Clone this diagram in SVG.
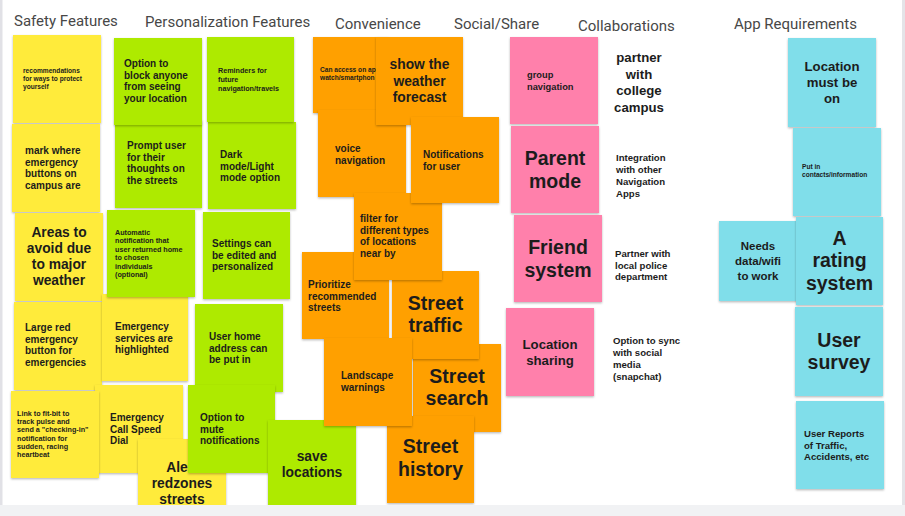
<svg xmlns="http://www.w3.org/2000/svg" width="905" height="516" viewBox="0 0 905 516">
<defs>
<filter id="sh" x="-10%" y="-10%" width="120%" height="125%">
<feDropShadow dx="0" dy="1.2" stdDeviation="0.9" flood-color="#000" flood-opacity="0.28"/>
</filter>
</defs>
<style>
.s{filter:url(#sh)}
.y{fill:#FFEB3B}
.g{fill:#AEEA00}
.o{fill:#FFA000}
.p{fill:#FF80AB}
.c{fill:#80DEEA}
text{font-family:"Liberation Sans",Arial,sans-serif;fill:#1c1c1c;font-weight:700}
.h{font-family:Roboto,"Liberation Sans",sans-serif;font-weight:400;font-size:15px;fill:#474747}
.xs{font-size:6.6px}
.sm{font-size:7.2px}
.md{font-size:10px}
.lg{font-size:13.8px;text-anchor:middle}
.xl{font-size:19.5px;text-anchor:middle}
.mc{font-size:11.5px;text-anchor:middle}
.cb{font-size:9.6px}
</style>
<rect x="0" y="0" width="905" height="516" fill="#ffffff"/>
<rect x="0" y="0" width="2.5" height="505" fill="#e1e1e6"/>
<rect x="902" y="0" width="3" height="505" fill="#e4e4e8"/>

<g id="headers">
<text class="h" x="14" y="26">Safety Features</text>
<text class="h" x="145" y="27">Personalization Features</text>
<text class="h" x="335" y="29">Convenience</text>
<text class="h" x="454" y="29">Social/Share</text>
<text class="h" x="578" y="31">Collaborations</text>
<text class="h" x="734" y="29">App Requirements</text>
</g>

<g id="connectors"></g>

<!-- Safety (yellow) -->
<g id="y-recommendations"><rect class="s y" x="13" y="35" width="88" height="88"/>
<text class="xs" x="23"><tspan x="23" y="73">recommendations</tspan><tspan x="23" y="81">for ways to protect</tspan><tspan x="23" y="89">yourself</tspan></text></g>
<g id="y-mark-where"><rect class="s y" x="12" y="124" width="88" height="88"/>
<text class="md" x="25"><tspan x="25" y="154">mark where</tspan><tspan x="25" y="165.5">emergency</tspan><tspan x="25" y="177">buttons on</tspan><tspan x="25" y="188.5">campus are</tspan></text></g>
<g id="y-areas"><rect class="s y" x="15" y="213" width="88" height="88"/>
<text class="lg" x="59"><tspan x="59" y="237">Areas to</tspan><tspan x="59" y="253">avoid due</tspan><tspan x="59" y="269">to major</tspan><tspan x="59" y="285">weather</tspan></text></g>
<g id="y-large-red"><rect class="s y" x="14" y="302" width="88" height="88"/>
<text class="md" x="25"><tspan x="25" y="331">Large red</tspan><tspan x="25" y="342.5">emergency</tspan><tspan x="25" y="354">button for</tspan><tspan x="25" y="365.5">emergencies</tspan></text></g>
<g id="y-emergency-services"><rect class="s y" x="102" y="294" width="86" height="87"/>
<text class="md" x="115"><tspan x="115" y="330">Emergency</tspan><tspan x="115" y="341.5">services are</tspan><tspan x="115" y="353">highlighted</tspan></text></g>
<g id="y-speed-dial"><rect class="s y" x="95" y="385" width="88" height="88"/>
<text class="md" x="110"><tspan x="110" y="421">Emergency</tspan><tspan x="110" y="432.5">Call Speed</tspan><tspan x="110" y="444">Dial</tspan></text></g>
<g id="y-fitbit"><rect class="s y" x="11" y="391" width="88" height="87"/>
<text class="sm" x="17"><tspan x="17" y="416">Link to fit-bit to</tspan><tspan x="17" y="424.2">track pulse and</tspan><tspan x="17" y="432.4">send a "checking-in"</tspan><tspan x="17" y="440.6">notification for</tspan><tspan x="17" y="448.8">sudden, racing</tspan><tspan x="17" y="457">heartbeat</tspan></text></g>
<g id="y-redzones"><rect class="s y" x="138" y="439" width="88" height="72"/>
<text class="lg"><tspan x="177" y="472">Ale</tspan><tspan x="182" y="488">redzones</tspan><tspan x="182" y="504">streets</tspan></text></g>

<!-- Personalization (green) -->
<g id="g-prompt"><rect class="s g" x="115" y="120" width="87" height="88"/>
<text class="md" x="127"><tspan x="127" y="149">Prompt user</tspan><tspan x="127" y="160.5">for their</tspan><tspan x="127" y="172">thoughts on</tspan><tspan x="127" y="183.5">the streets</tspan></text></g>
<g id="g-block"><rect class="s g" x="114" y="38" width="88" height="87"/>
<text class="md" x="124"><tspan x="124" y="67">Option to</tspan><tspan x="124" y="78.5">block anyone</tspan><tspan x="124" y="90">from seeing</tspan><tspan x="124" y="101.5">your location</tspan></text></g>
<g id="g-dark-mode"><rect class="s g" x="208" y="122" width="88" height="87"/>
<text class="md" x="220"><tspan x="220" y="158">Dark</tspan><tspan x="220" y="169.5">mode/Light</tspan><tspan x="220" y="181">mode option</tspan></text></g>
<g id="g-reminders"><rect class="s g" x="207" y="37" width="87" height="85"/>
<text class="sm" x="218"><tspan x="218" y="73">Reminders for</tspan><tspan x="218" y="82">future</tspan><tspan x="218" y="91">navigation/travels</tspan></text></g>
<g id="g-automatic"><rect class="s g" x="107" y="210" width="88" height="87"/>
<text class="sm" x="115"><tspan x="115" y="235">Automatic</tspan><tspan x="115" y="243.4">notification that</tspan><tspan x="115" y="251.8">user returned home</tspan><tspan x="115" y="260.2">to chosen</tspan><tspan x="115" y="268.6">individuals</tspan><tspan x="115" y="277">(optional)</tspan></text></g>
<g id="g-settings"><rect class="s g" x="203" y="212" width="87" height="87"/>
<text class="md" x="212"><tspan x="212" y="247">Settings can</tspan><tspan x="212" y="258.5">be edited and</tspan><tspan x="212" y="270">personalized</tspan></text></g>
<g id="g-home-address"><rect class="s g" x="195" y="304" width="88" height="88"/>
<text class="md" x="209"><tspan x="209" y="340">User home</tspan><tspan x="209" y="351.5">address can</tspan><tspan x="209" y="363">be put in</tspan></text></g>
<g id="g-mute"><rect class="s g" x="188" y="385" width="87" height="88"/>
<text class="md" x="200"><tspan x="200" y="421">Option to</tspan><tspan x="200" y="432.5">mute</tspan><tspan x="200" y="444">notifications</tspan></text></g>
<g id="g-save"><rect class="s g" x="268" y="420" width="88" height="92"/>
<text class="lg" x="312"><tspan x="312" y="461">save</tspan><tspan x="312" y="477">locations</tspan></text></g>

<!-- Convenience (orange) -->
<g id="o-watch"><rect class="s o" x="313" y="37" width="76" height="76"/>
<text class="xs" x="320"><tspan x="320" y="72">Can access on app</tspan><tspan x="320" y="80">watch/smartphon</tspan></text></g>
<g id="o-voice"><rect class="s o" x="318" y="110" width="88" height="87"/>
<text class="md" x="335"><tspan x="335" y="152">voice</tspan><tspan x="335" y="163.5">navigation</tspan></text></g>
<g id="o-weather"><rect class="s o" x="376" y="37" width="87" height="88"/>
<text class="lg" x="419.5"><tspan x="419.5" y="69">show the</tspan><tspan x="419.5" y="86">weather</tspan><tspan x="419.5" y="102">forecast</tspan></text></g>
<g id="o-prioritize"><rect class="s o" x="302" y="252" width="87" height="87"/>
<text class="md" x="308"><tspan x="308" y="288">Prioritize</tspan><tspan x="308" y="299.5">recommended</tspan><tspan x="308" y="311">streets</tspan></text></g>
<g id="o-search"><rect class="s o" x="413" y="344" width="88" height="88"/>
<text class="xl" x="457"><tspan x="457" y="383">Street</tspan><tspan x="457" y="405">search</tspan></text></g>
<g id="o-history"><rect class="s o" x="387" y="416" width="87" height="87"/>
<text class="xl" x="430.5"><tspan x="430.5" y="453">Street</tspan><tspan x="430.5" y="476">history</tspan></text></g>
<g id="o-traffic"><rect class="s o" x="392" y="271" width="87" height="88"/>
<text class="xl" x="435.5"><tspan x="435.5" y="310">Street</tspan><tspan x="435.5" y="332">traffic</tspan></text></g>
<g id="o-filter"><rect class="s o" x="354" y="193" width="88" height="87"/>
<text class="md" x="360"><tspan x="360" y="222">filter for</tspan><tspan x="360" y="233.5">different types</tspan><tspan x="360" y="245">of locations</tspan><tspan x="360" y="256.5">near by</tspan></text></g>
<g id="o-notifications"><rect class="s o" x="411" y="117" width="88" height="86"/>
<text class="md" x="423"><tspan x="423" y="158">Notifications</tspan><tspan x="423" y="169.5">for user</tspan></text></g>
<g id="o-landscape"><rect class="s o" x="324" y="338" width="88" height="88"/>
<text class="md" x="341"><tspan x="341" y="379">Landscape</tspan><tspan x="341" y="390.5">warnings</tspan></text></g>

<!-- Social/Share (pink) -->
<g id="p-group"><rect class="s p" x="510" y="37" width="88" height="87"/>
<text class="cb" x="527" style="font-size:9.3px"><tspan x="527" y="78">group</tspan><tspan x="527" y="90">navigation</tspan></text></g>
<g id="p-parent"><rect class="s p" x="511" y="126" width="88" height="87"/>
<text class="xl" x="555"><tspan x="555" y="165">Parent</tspan><tspan x="555" y="188">mode</tspan></text></g>
<g id="p-friend"><rect class="s p" x="514" y="215" width="88" height="87"/>
<text class="xl" x="558"><tspan x="558" y="254">Friend</tspan><tspan x="558" y="277">system</tspan></text></g>
<g id="p-location"><rect class="s p" x="506" y="308" width="88" height="88"/>
<text class="lg" x="550" style="font-size:13.2px"><tspan x="550" y="349">Location</tspan><tspan x="550" y="365">sharing</tspan></text></g>

<!-- Collaborations (plain text) -->
<g id="c-campus"><text class="lg" x="639" style="font-size:13.2px"><tspan x="639" y="62">partner</tspan><tspan x="639" y="78.5">with</tspan><tspan x="639" y="95">college</tspan><tspan x="639" y="111.5">campus</tspan></text></g>
<g id="c-integration"><text class="cb" x="616"><tspan x="616" y="161">Integration</tspan><tspan x="616" y="173">with other</tspan><tspan x="616" y="185">Navigation</tspan><tspan x="616" y="197">Apps</tspan></text></g>
<g id="c-police"><text class="cb" x="615"><tspan x="615" y="257">Partner with</tspan><tspan x="615" y="268.5">local police</tspan><tspan x="615" y="280">department</tspan></text></g>
<g id="c-sync"><text class="cb" x="613"><tspan x="613" y="344">Option to sync</tspan><tspan x="613" y="356">with social</tspan><tspan x="613" y="368">media</tspan><tspan x="613" y="380">(snapchat)</tspan></text></g>

<!-- App Requirements (cyan) -->
<g id="a-location-on"><rect class="s c" x="788" y="38" width="88" height="89"/>
<text class="lg" x="832" style="font-size:13.2px"><tspan x="832" y="71">Location</tspan><tspan x="832" y="87">must be</tspan><tspan x="832" y="103">on</tspan></text></g>
<g id="a-contacts"><rect class="s c" x="793" y="128" width="88" height="88"/>
<text class="xs" x="802"><tspan x="802" y="169">Put in</tspan><tspan x="802" y="177">contacts/information</tspan></text></g>
<g id="a-data"><rect class="s c" x="719" y="221" width="80" height="80"/>
<text class="mc" x="758"><tspan x="758" y="250">Needs</tspan><tspan x="758" y="265">data/wifi</tspan><tspan x="758" y="279.5">to work</tspan></text></g>
<g id="a-rating"><rect class="s c" x="796" y="217" width="87" height="88"/>
<text class="xl" x="839.5"><tspan x="839.5" y="245">A</tspan><tspan x="839.5" y="267">rating</tspan><tspan x="839.5" y="290">system</tspan></text></g>
<g id="a-survey"><rect class="s c" x="795" y="307" width="88" height="89"/>
<text class="xl" x="839"><tspan x="839" y="347">User</tspan><tspan x="839" y="369">survey</tspan></text></g>
<g id="a-reports"><rect class="s c" x="796" y="401" width="88" height="88"/>
<text class="cb" x="804"><tspan x="804" y="437">User Reports</tspan><tspan x="804" y="448.5">of Traffic,</tspan><tspan x="804" y="460">Accidents, etc</tspan></text></g>

<rect x="0" y="505" width="905" height="11" fill="#f1f2f4"/>
</svg>
